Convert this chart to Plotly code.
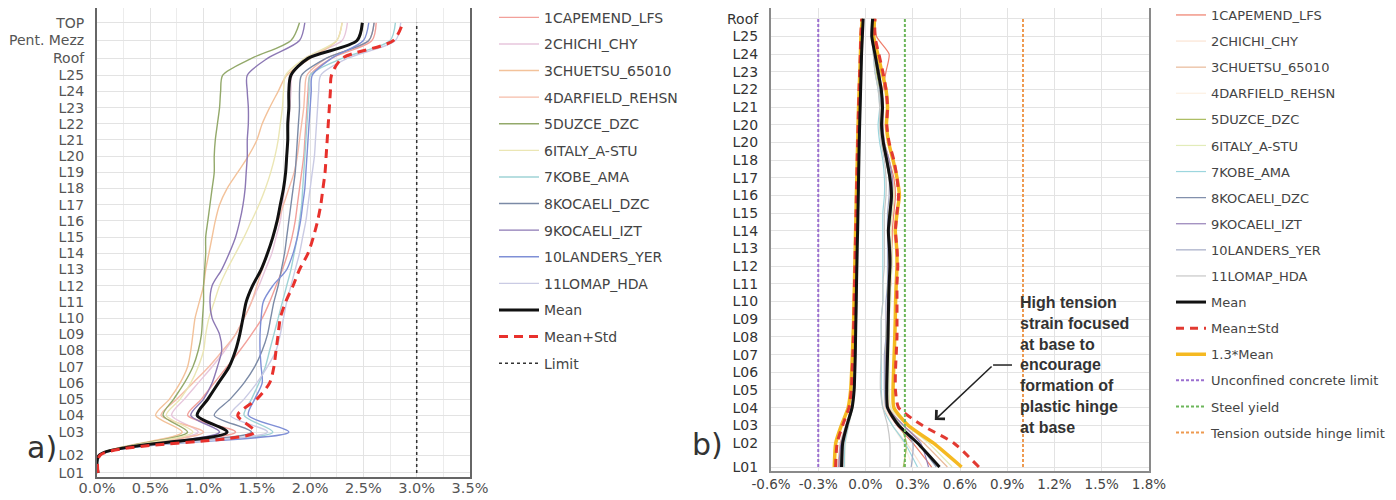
import plotly.graph_objects as go

# ======================= DATA =======================
motions = ["1CAPEMEND_LFS", "2CHICHI_CHY", "3CHUETSU_65010", "4DARFIELD_REHSN",
           "5DUZCE_DZC", "6ITALY_A-STU", "7KOBE_AMA", "8KOCAELI_DZC",
           "9KOCAELI_IZT", "10LANDERS_YER", "11LOMAP_HDA"]

# ---- panel a : storey drift (%) ----
levels_a = ["L01", "L02", "L03", "L04", "L05", "L06", "L07", "L08", "L09", "L10",
            "L11", "L12", "L13", "L14", "L15", "L16", "L17", "L18", "L19", "L20",
            "L21", "L22", "L23", "L24", "L25", "Roof", "Pent. Mezz", "TOP"]
elev_a = [0.0, 1.1, 2.52, 3.56, 4.56, 5.56, 6.56, 7.56, 8.56, 9.56,
          10.56, 11.56, 12.56, 13.56, 14.56, 15.56, 16.56, 17.56, 18.56, 19.56,
          20.56, 21.56, 22.56, 23.56, 24.56, 25.6, 26.7, 27.8]
xticks_a = [0.0, 0.5, 1.0, 1.5, 2.0, 2.5, 3.0, 3.5]
xticklabels_a = ["0.0%", "0.5%", "1.0%", "1.5%", "2.0%", "2.5%", "3.0%", "3.5%"]

drift_capemend = [0.0, 0.03, 1.30, 0.85, 0.98, 1.10, 1.22, 1.34, 1.45, 1.55,
                  1.62, 1.68, 1.74, 1.79, 1.83, 1.86, 1.88, 1.90, 1.92, 1.94,
                  1.95, 1.96, 1.97, 1.98, 2.00, 2.20, 2.58, 2.62]
drift_chichi = [0.0, 0.02, 0.95, 0.70, 0.82, 0.95, 1.08, 1.20, 1.30, 1.38,
                1.45, 1.52, 1.58, 1.64, 1.68, 1.72, 1.74, 1.76, 1.77, 1.78,
                1.79, 1.80, 1.81, 1.82, 1.83, 1.95, 2.30, 2.35]
drift_chuetsu = [0.0, 0.02, 0.80, 0.55, 0.68, 0.78, 0.85, 0.88, 0.90, 0.92,
                 0.96, 1.00, 1.02, 1.05, 1.08, 1.11, 1.15, 1.22, 1.32, 1.42,
                 1.50, 1.55, 1.62, 1.70, 1.78, 2.00, 2.25, 2.30]
drift_darfield = [0.0, 0.02, 1.00, 0.60, 0.75, 0.90, 1.05, 1.18, 1.30, 1.38,
                  1.45, 1.50, 1.55, 1.60, 1.65, 1.70, 1.75, 1.80, 1.85, 1.88,
                  1.90, 1.92, 1.94, 1.95, 1.97, 2.15, 2.55, 2.60]
drift_duzce = [0.0, 0.02, 0.85, 0.62, 0.72, 0.82, 0.90, 0.95, 0.98, 0.99,
               1.00, 1.00, 1.01, 1.02, 1.02, 1.04, 1.06, 1.08, 1.10, 1.10,
               1.11, 1.13, 1.15, 1.16, 1.18, 1.45, 1.82, 1.90]
drift_italy = [0.0, 0.02, 0.90, 0.65, 0.78, 0.88, 0.95, 1.00, 1.02, 1.05,
               1.10, 1.15, 1.22, 1.30, 1.38, 1.45, 1.52, 1.58, 1.63, 1.67,
               1.70, 1.72, 1.74, 1.75, 1.77, 1.95, 2.25, 2.30]
drift_kobe = [0.0, 0.03, 1.65, 1.38, 1.45, 1.52, 1.58, 1.62, 1.66, 1.70,
              1.74, 1.78, 1.82, 1.85, 1.88, 1.90, 1.92, 1.93, 1.94, 1.95,
              1.96, 1.97, 1.98, 1.99, 2.00, 2.30, 2.75, 2.80]
drift_kocaeli_dzc = [0.0, 0.03, 1.45, 1.10, 1.25, 1.38, 1.48, 1.55, 1.60, 1.63,
                     1.66, 1.70, 1.73, 1.76, 1.78, 1.80, 1.82, 1.84, 1.86, 1.87,
                     1.88, 1.89, 1.90, 1.90, 1.92, 2.15, 2.55, 2.60]
drift_kocaeli_izt = [0.0, 0.02, 1.15, 0.88, 1.00, 1.08, 1.13, 1.17, 1.15, 1.08,
                     1.06, 1.08, 1.17, 1.24, 1.30, 1.34, 1.37, 1.39, 1.40, 1.41,
                     1.41, 1.42, 1.42, 1.41, 1.41, 1.60, 1.90, 1.95]
drift_landers = [0.0, 0.03, 1.80, 1.42, 1.48, 1.55, 1.54, 1.53, 1.53, 1.54,
                 1.56, 1.65, 1.78, 1.84, 1.88, 1.91, 1.93, 1.95, 1.96, 1.97,
                 1.98, 1.99, 2.00, 2.01, 2.02, 2.20, 2.50, 2.55]
drift_lomap = [0.0, 0.03, 1.60, 1.25, 1.38, 1.50, 1.60, 1.68, 1.72, 1.75,
               1.78, 1.82, 1.86, 1.90, 1.93, 1.96, 1.98, 2.00, 2.02, 2.04,
               2.05, 2.06, 2.07, 2.08, 2.10, 2.35, 2.80, 2.85]
drift_mean = [0.01, 0.02, 1.22, 0.94, 1.04, 1.14, 1.24, 1.30, 1.34, 1.37,
              1.40, 1.46, 1.54, 1.60, 1.65, 1.69, 1.72, 1.75, 1.77, 1.78,
              1.79, 1.79, 1.80, 1.80, 1.82, 1.98, 2.44, 2.49]
drift_mean_std = [0.01, 0.03, 1.48, 1.32, 1.50, 1.62, 1.66, 1.68, 1.70, 1.72,
                  1.77, 1.84, 1.90, 1.98, 2.03, 2.07, 2.10, 2.12, 2.14, 2.15,
                  2.16, 2.17, 2.18, 2.19, 2.20, 2.30, 2.78, 2.87]
drift_limit = 3.0

# ---- panel b : wall strain (%) ----
levels_b = ["L01", "L02", "L03", "L04", "L05", "L06", "L07", "L08", "L09", "L10",
            "L11", "L12", "L13", "L14", "L15", "L16", "L17", "L18", "L20", "L20",
            "L21", "L22", "L23", "L24", "L25", "Roof"]
elev_b = [0.0, 1.36, 2.36, 3.36, 4.36, 5.36, 6.36, 7.36, 8.36, 9.36,
          10.36, 11.36, 12.36, 13.36, 14.36, 15.36, 16.36, 17.36, 18.36, 19.36,
          20.36, 21.36, 22.36, 23.36, 24.36, 25.36]
xticks_b = [-0.6, -0.3, 0.0, 0.3, 0.6, 0.9, 1.2, 1.5, 1.8]
xticklabels_b = ["-0.6%", "-0.3%", "0.0%", "0.3%", "0.6%", "0.9%", "1.2%", "1.5%", "1.8%"]

# tension envelopes
ten_capemend = [0.42, 0.30, 0.20, 0.13, 0.13, 0.13, 0.14, 0.14, 0.15, 0.15,
                0.16, 0.16, 0.17, 0.17, 0.18, 0.19, 0.18, 0.15, 0.12, 0.11,
                0.10, 0.11, 0.13, 0.15, 0.07, 0.06]
ten_chichi = [0.36, 0.26, 0.17, 0.12, 0.12, 0.12, 0.12, 0.13, 0.13, 0.14,
              0.14, 0.15, 0.15, 0.15, 0.15, 0.16, 0.15, 0.13, 0.10, 0.09,
              0.10, 0.09, 0.07, 0.05, 0.04, 0.05]
ten_chuetsu = [0.52, 0.37, 0.24, 0.15, 0.14, 0.14, 0.14, 0.15, 0.15, 0.15,
               0.16, 0.16, 0.16, 0.15, 0.17, 0.18, 0.17, 0.15, 0.12, 0.11,
               0.11, 0.10, 0.08, 0.06, 0.05, 0.05]
ten_darfield = [0.30, 0.24, 0.17, 0.13, 0.13, 0.13, 0.13, 0.13, 0.14, 0.14,
                0.14, 0.15, 0.15, 0.14, 0.15, 0.15, 0.15, 0.13, 0.11, 0.10,
                0.10, 0.09, 0.07, 0.05, 0.04, 0.04]
ten_duzce = [0.24, 0.26, 0.22, 0.14, 0.13, 0.13, 0.13, 0.13, 0.14, 0.14,
             0.14, 0.14, 0.15, 0.14, 0.15, 0.16, 0.15, 0.13, 0.11, 0.10,
             0.10, 0.09, 0.07, 0.06, 0.04, 0.04]
ten_italy = [0.55, 0.40, 0.26, 0.16, 0.15, 0.15, 0.15, 0.15, 0.15, 0.16,
             0.16, 0.17, 0.17, 0.16, 0.17, 0.18, 0.17, 0.15, 0.12, 0.11,
             0.11, 0.10, 0.08, 0.06, 0.05, 0.05]
ten_kobe = [0.33, 0.25, 0.17, 0.11, 0.10, 0.10, 0.10, 0.10, 0.10, 0.11,
            0.11, 0.11, 0.11, 0.11, 0.11, 0.12, 0.12, 0.11, 0.09, 0.08,
            0.09, 0.08, 0.06, 0.05, 0.04, 0.04]
ten_kocaeli_dzc = [0.45, 0.33, 0.21, 0.14, 0.14, 0.14, 0.14, 0.14, 0.14, 0.15,
                   0.15, 0.16, 0.16, 0.15, 0.16, 0.17, 0.16, 0.14, 0.11, 0.10,
                   0.11, 0.10, 0.08, 0.06, 0.04, 0.05]
ten_kocaeli_izt = [0.40, 0.35, 0.24, 0.14, 0.13, 0.13, 0.13, 0.14, 0.14, 0.14,
                   0.15, 0.15, 0.15, 0.15, 0.16, 0.17, 0.17, 0.15, 0.12, 0.11,
                   0.11, 0.10, 0.09, 0.07, 0.05, 0.06]
ten_landers = [0.29, 0.30, 0.22, 0.13, 0.12, 0.12, 0.12, 0.13, 0.13, 0.13,
               0.14, 0.14, 0.14, 0.14, 0.14, 0.15, 0.15, 0.13, 0.11, 0.10,
               0.10, 0.09, 0.08, 0.06, 0.04, 0.05]
ten_lomap = [0.155, 0.155, 0.14, 0.11, 0.095, 0.095, 0.10, 0.10, 0.10, 0.11,
             0.11, 0.12, 0.12, 0.12, 0.12, 0.13, 0.13, 0.12, 0.10, 0.09,
             0.09, 0.08, 0.06, 0.05, 0.04, 0.04]

# compression envelopes
com_capemend = [-0.165, -0.150, -0.120, -0.090, -0.076, -0.070, -0.067, -0.064, -0.061, -0.059,
                -0.057, -0.055, -0.053, -0.051, -0.049, -0.047, -0.045, -0.043, -0.041, -0.038,
                -0.035, -0.032, -0.029, -0.026, -0.023, -0.020]
com_chichi = [-0.140, -0.135, -0.110, -0.082, -0.070, -0.066, -0.063, -0.060, -0.058, -0.056,
              -0.054, -0.052, -0.050, -0.048, -0.046, -0.044, -0.042, -0.040, -0.038, -0.035,
              -0.032, -0.030, -0.027, -0.024, -0.021, -0.018]
com_chuetsu = [-0.175, -0.160, -0.125, -0.092, -0.078, -0.072, -0.068, -0.065, -0.062, -0.060,
               -0.058, -0.056, -0.054, -0.052, -0.050, -0.048, -0.046, -0.044, -0.042, -0.039,
               -0.036, -0.033, -0.030, -0.027, -0.024, -0.021]
com_darfield = [-0.130, -0.125, -0.105, -0.080, -0.068, -0.064, -0.061, -0.058, -0.056, -0.054,
                -0.052, -0.050, -0.048, -0.046, -0.044, -0.042, -0.040, -0.038, -0.036, -0.034,
                -0.031, -0.028, -0.025, -0.022, -0.019, -0.016]
com_duzce = [-0.150, -0.140, -0.115, -0.086, -0.073, -0.068, -0.065, -0.062, -0.059, -0.057,
             -0.055, -0.053, -0.051, -0.049, -0.047, -0.045, -0.043, -0.041, -0.039, -0.036,
             -0.033, -0.030, -0.027, -0.024, -0.021, -0.019]
com_italy = [-0.160, -0.148, -0.120, -0.088, -0.075, -0.070, -0.066, -0.063, -0.060, -0.058,
             -0.056, -0.054, -0.052, -0.050, -0.048, -0.046, -0.044, -0.042, -0.040, -0.037,
             -0.034, -0.031, -0.028, -0.025, -0.022, -0.020]
com_kobe = [-0.135, -0.130, -0.108, -0.082, -0.070, -0.065, -0.062, -0.059, -0.057, -0.055,
            -0.053, -0.051, -0.049, -0.047, -0.045, -0.043, -0.041, -0.039, -0.037, -0.035,
            -0.032, -0.029, -0.026, -0.023, -0.020, -0.017]
com_kocaeli_dzc = [-0.158, -0.146, -0.118, -0.087, -0.074, -0.069, -0.066, -0.063, -0.060, -0.058,
                   -0.056, -0.054, -0.052, -0.050, -0.048, -0.046, -0.044, -0.042, -0.040, -0.037,
                   -0.034, -0.031, -0.028, -0.025, -0.022, -0.019]
com_kocaeli_izt = [-0.170, -0.155, -0.122, -0.090, -0.077, -0.071, -0.067, -0.064, -0.061, -0.059,
                   -0.057, -0.055, -0.053, -0.051, -0.049, -0.047, -0.045, -0.043, -0.041, -0.038,
                   -0.035, -0.032, -0.029, -0.026, -0.023, -0.021]
com_landers = [-0.145, -0.138, -0.112, -0.084, -0.071, -0.067, -0.064, -0.061, -0.058, -0.056,
               -0.054, -0.052, -0.050, -0.048, -0.046, -0.044, -0.042, -0.040, -0.038, -0.036,
               -0.033, -0.030, -0.027, -0.024, -0.021, -0.018]
com_lomap = [-0.142, -0.136, -0.110, -0.083, -0.070, -0.066, -0.063, -0.060, -0.057, -0.055,
             -0.053, -0.051, -0.049, -0.047, -0.045, -0.043, -0.041, -0.039, -0.037, -0.035,
             -0.032, -0.029, -0.026, -0.023, -0.020, -0.017]

ten_mean = [0.47, 0.33, 0.21, 0.14, 0.135, 0.137, 0.14, 0.143, 0.145, 0.147,
            0.15, 0.155, 0.152, 0.145, 0.155, 0.165, 0.155, 0.135, 0.113, 0.102,
            0.108, 0.10, 0.08, 0.06, 0.04, 0.045]
com_mean = [-0.152, -0.145, -0.118, -0.085, -0.072, -0.068, -0.065, -0.063, -0.061, -0.059,
            -0.057, -0.055, -0.053, -0.050, -0.048, -0.046, -0.044, -0.042, -0.040, -0.037,
            -0.034, -0.031, -0.028, -0.025, -0.020, -0.015]
ten_mean_std = [0.72, 0.56, 0.36, 0.21, 0.19, 0.19, 0.195, 0.20, 0.20, 0.20,
                0.20, 0.205, 0.20, 0.19, 0.20, 0.21, 0.20, 0.18, 0.15, 0.135,
                0.14, 0.13, 0.11, 0.085, 0.06, 0.06]
com_mean_std = [-0.19, -0.18, -0.145, -0.105, -0.09, -0.085, -0.08, -0.077, -0.074, -0.072,
                -0.07, -0.067, -0.065, -0.062, -0.06, -0.058, -0.055, -0.053, -0.05, -0.047,
                -0.044, -0.041, -0.037, -0.033, -0.03, -0.025]
ten_mean13 = [0.61, 0.43, 0.27, 0.18, 0.175, 0.178, 0.182, 0.186, 0.189, 0.191,
              0.195, 0.20, 0.198, 0.189, 0.20, 0.215, 0.20, 0.175, 0.147, 0.133,
              0.14, 0.13, 0.104, 0.078, 0.052, 0.058]
com_mean13 = [-0.198, -0.189, -0.153, -0.11, -0.094, -0.088, -0.083, -0.079, -0.075, -0.073,
              -0.07, -0.068, -0.065, -0.063, -0.06, -0.058, -0.055, -0.052, -0.05, -0.047,
              -0.044, -0.04, -0.036, -0.032, -0.029, -0.02]
unconfined_limit = -0.3
steel_yield = 0.25
tension_limit = 1.0

# ======================= STYLE =======================
colors_a = ["#f2a09a", "#e7c6dc", "#f3c29a", "#f6bca8", "#93a96a", "#ebe6b4",
            "#9fd3d6", "#7b8aa6", "#8c78b4", "#7f8fd6", "#cacbe4"]
colors_b = ["#ef7d6a", "#fbe3d3", "#e9b998", "#fdf0e2", "#a9bb5c", "#e2ecb9",
            "#9cd6de", "#7c8ba8", "#9580b8", "#a4abc6", "#c6c6c6"]
W, H = 1396, 500
OFF = 8  # page body offset in the screenshot
FONT = "DejaVu Sans"


def px_x(p):
    return (p - OFF) / W


def px_y(p):
    return min(1.0, max(0.0, 1 - (p - OFF) / H))


drift_series = [drift_capemend, drift_chichi, drift_chuetsu, drift_darfield, drift_duzce,
                drift_italy, drift_kobe, drift_kocaeli_dzc, drift_kocaeli_izt,
                drift_landers, drift_lomap]
ten_series = [ten_capemend, ten_chichi, ten_chuetsu, ten_darfield, ten_duzce, ten_italy,
              ten_kobe, ten_kocaeli_dzc, ten_kocaeli_izt, ten_landers, ten_lomap]
com_series = [com_capemend, com_chichi, com_chuetsu, com_darfield, com_duzce, com_italy,
              com_kobe, com_kocaeli_dzc, com_kocaeli_izt, com_landers, com_lomap]

fig = go.Figure()

# ---- panel a traces ----
for i, (name, vals) in enumerate(zip(motions, drift_series)):
    fig.add_trace(go.Scatter(x=vals, y=elev_a, mode="lines", name=name,
                             line=dict(color=colors_a[i], width=1.4, shape="spline", smoothing=0.8),
                             legend="legend", legendgroup="a%d" % i, xaxis="x", yaxis="y"))
fig.add_trace(go.Scatter(x=drift_mean, y=elev_a, mode="lines", name="Mean",
                         line=dict(color="#111111", width=3, shape="spline", smoothing=0.8),
                         legend="legend", legendgroup="a_mean", xaxis="x", yaxis="y"))
fig.add_trace(go.Scatter(x=drift_mean_std, y=elev_a, mode="lines", name="Mean+Std",
                         line=dict(color="#e8312c", width=3, dash="9px,6px", shape="spline", smoothing=0.8),
                         legend="legend", legendgroup="a_std", xaxis="x", yaxis="y"))
fig.add_trace(go.Scatter(x=[drift_limit, drift_limit], y=[elev_a[0], elev_a[-1]], mode="lines",
                         name="Limit", line=dict(color="#333333", width=1.5, dash="dot"),
                         legend="legend", legendgroup="a_lim", xaxis="x", yaxis="y"))

# ---- panel b traces ----
for i, name in enumerate(motions):
    fig.add_trace(go.Scatter(x=ten_series[i], y=elev_b, mode="lines", name=name,
                             line=dict(color=colors_b[i], width=1.2, shape="spline", smoothing=0.6),
                             legend="legend2", legendgroup="b%d" % i, legendrank=i + 1,
                             xaxis="x2", yaxis="y2"))
    fig.add_trace(go.Scatter(x=com_series[i], y=elev_b, mode="lines", name=name, showlegend=False,
                             line=dict(color=colors_b[i], width=1.2, shape="spline", smoothing=0.6),
                             legend="legend2", legendgroup="b%d" % i, xaxis="x2", yaxis="y2"))

for xs, show in ((ten_mean13, True), (com_mean13, False)):
    fig.add_trace(go.Scatter(x=xs, y=elev_b, mode="lines", name="1.3*Mean", showlegend=show,
                             line=dict(color="#f5b921", width=3.5, shape="spline", smoothing=0.6),
                             legend="legend2", legendgroup="b_13", legendrank=14,
                             xaxis="x2", yaxis="y2"))
for xs, show in ((ten_mean_std, True), (com_mean_std, False)):
    fig.add_trace(go.Scatter(x=xs, y=elev_b, mode="lines", name="Mean±Std", showlegend=show,
                             line=dict(color="#e23a32", width=3, dash="8px,6px", shape="spline", smoothing=0.6),
                             legend="legend2", legendgroup="b_std", legendrank=13,
                             xaxis="x2", yaxis="y2"))
for xs, show in ((ten_mean, True), (com_mean, False)):
    fig.add_trace(go.Scatter(x=xs, y=elev_b, mode="lines", name="Mean", showlegend=show,
                             line=dict(color="#111111", width=3, shape="spline", smoothing=0.6),
                             legend="legend2", legendgroup="b_mean", legendrank=12,
                             xaxis="x2", yaxis="y2"))

for val, name, col, rank in ((unconfined_limit, "Unconfined concrete limit", "#9b6fd0", 15),
                             (steel_yield, "Steel yield", "#6cb65a", 16),
                             (tension_limit, "Tension outside hinge limit", "#ee9a50", 17)):
    fig.add_trace(go.Scatter(x=[val, val], y=[elev_b[0], elev_b[-1]], mode="lines", name=name,
                             line=dict(color=col, width=2, dash="3px,2px"),
                             legend="legend2", legendgroup="b_" + name, legendrank=rank,
                             xaxis="x2", yaxis="y2"))

# ======================= LAYOUT =======================
grid = "#e3e3e3"
axis_common = dict(showline=True, mirror=True, linewidth=2,
                   showgrid=True, gridcolor=grid, gridwidth=1, zeroline=False,
                   ticks="", fixedrange=True, automargin=False)
frame_a = "#666666"
frame_b = "#8a8a8a"

fig.update_layout(
    template="none",
    width=W, height=H, margin=dict(l=0, r=0, t=0, b=0, pad=0, autoexpand=False),
    paper_bgcolor="white", plot_bgcolor="white",
    font=dict(family=FONT, color="#444444"),
    xaxis=dict(axis_common, linecolor=frame_a, domain=[px_x(97), px_x(470)], range=[0, 3.5],
               anchor="y", tickmode="array", tickvals=xticks_a, ticktext=xticklabels_a,
               tickfont=dict(size=14.5, color="#555555"), ticklabelstandoff=-3,
               minor=dict(dtick=0.25, showgrid=True, gridcolor="#ececec", ticks="")),
    yaxis=dict(axis_common, linecolor=frame_a, domain=[px_y(477), px_y(8)], range=[-0.25, 28.71],
               anchor="x", tickmode="array", tickvals=elev_a, ticktext=levels_a,
               tickfont=dict(size=14, color="#555555"), ticklabelstandoff=8),
    xaxis2=dict(axis_common, linecolor=frame_b, domain=[px_x(771), px_x(1149)], range=[-0.6, 1.8],
                anchor="y2", tickmode="array", tickvals=xticks_b, ticktext=xticklabels_b,
                tickfont=dict(size=13.5, color="#444444"), ticklabelstandoff=0),
    yaxis2=dict(axis_common, linecolor=frame_b, domain=[px_y(471), px_y(8)], range=[-0.226, 25.97],
                anchor="x2", tickmode="array", tickvals=elev_b, ticktext=levels_b,
                tickfont=dict(size=14, color="#333333"), ticklabelstandoff=8),
    legend=dict(x=px_x(494), y=1 - 182.25 / H, xanchor="left", yanchor="middle",
                font=dict(family=FONT, size=14, color="#444444"),
                itemwidth=40, traceorder="grouped", tracegroupgap=5.4,
                bgcolor="rgba(0,0,0,0)", borderwidth=0),
    legend2=dict(x=px_x(1171), y=1 - 216 / H, xanchor="left", yanchor="middle",
                 font=dict(family=FONT, size=13, color="#444444"),
                 itemwidth=30, traceorder="grouped", tracegroupgap=6.2,
                 bgcolor="rgba(0,0,0,0)", borderwidth=0),
    showlegend=True,
)

# panel labels
fig.add_annotation(x=px_x(25), y=px_y(467), xref="paper", yref="paper", text="a)",
                   showarrow=False, font=dict(family=FONT, size=30, color="#333333"))
fig.add_annotation(x=px_x(707), y=px_y(464), xref="paper", yref="paper", text="b)",
                   showarrow=False, font=dict(family=FONT, size=30, color="#333333"))

# callout
fig.add_annotation(x=px_x(1018), y=px_y(364.5), xref="paper", yref="paper",
                   xanchor="left", yanchor="middle", align="left", showarrow=False,
                   text="High tension<br>strain focused<br>at base to<br>encourage<br>formation of<br>plastic hinge<br>at base",
                   font=dict(family="Liberation Sans", size=16, color="#333333", weight="bold"))
fig.add_annotation(x=0.44, y=2.66, xref="x2", yref="y2", ax=0.81, ay=5.77,
                   axref="x2", ayref="y2", text="", showarrow=True,
                   arrowhead=4, arrowsize=1.6, arrowwidth=1.5, arrowcolor="#222222")
fig.add_shape(type="line", xref="x2", yref="y2", x0=0.81, x1=0.93, y0=5.77, y1=5.77,
              line=dict(color="#222222", width=1.5))

fig.write_html("out.html")
